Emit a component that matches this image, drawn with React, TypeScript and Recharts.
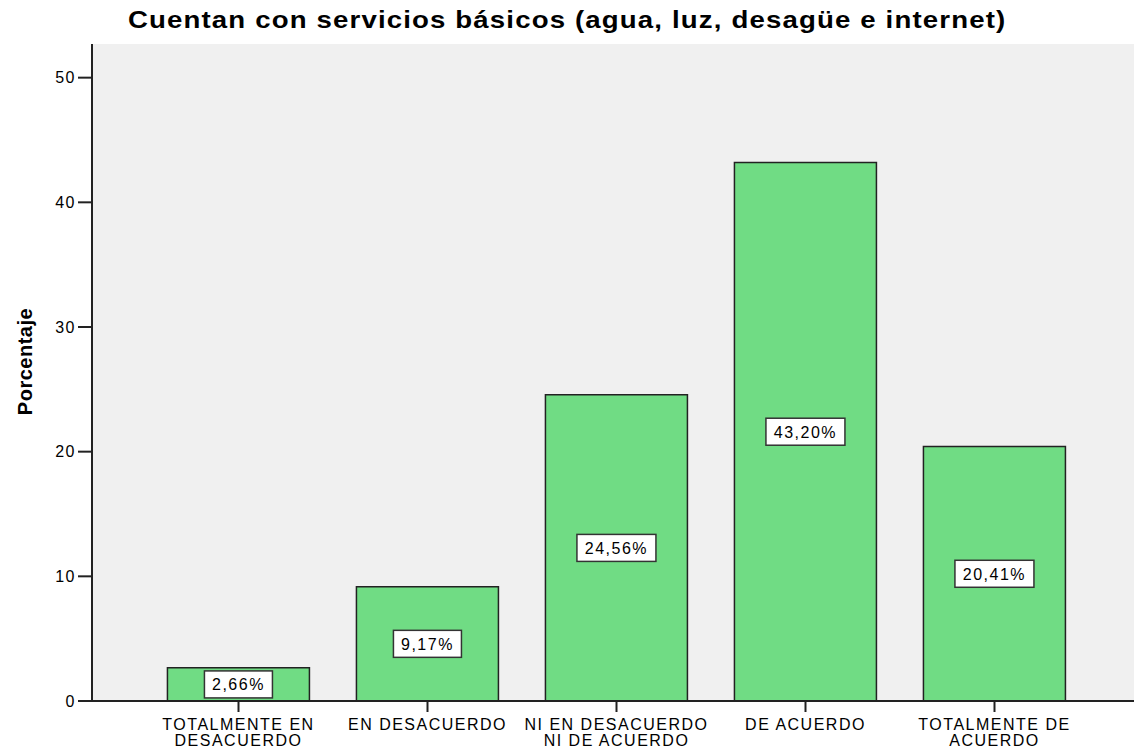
import React from 'react';
import { BarChart, Bar, XAxis, YAxis, CartesianGrid, LabelList } from 'recharts';

const categories = [
  'TOTALMENTE EN\nDESACUERDO',
  'EN DESACUERDO',
  'NI EN DESACUERDO\nNI DE ACUERDO',
  'DE ACUERDO',
  'TOTALMENTE DE\nACUERDO',
];
const percentages = [2.66, 9.17, 24.56, 43.2, 20.41];
const yTicks = [0, 10, 20, 30, 40, 50];

const data = categories.map((name, i) => ({ name, value: percentages[i] }));

const FONT = '"Liberation Sans", Arial, sans-serif';
const INK = '#222222';

function CategoryTick(props: any) {
  const { x, y, payload } = props;
  const lines = String(payload.value).split('\n');
  return (
    <text
      x={x}
      y={y}
      textAnchor="middle"
      fontFamily={FONT}
      fontSize={16}
      letterSpacing={1.5}
      fill="#000"
    >
      {lines.map((line, i) => (
        <tspan key={i} x={x} dy={16}>
          {line}
        </tspan>
      ))}
    </text>
  );
}

function ValueBox(props: any) {
  const { x, y, width, height, value } = props;
  const cx = x + width / 2;
  const cy = y + height / 2;
  const text = value.toFixed(2).replace('.', ',') + '%';
  const w = text.length * 11 + 13;
  const h = 27;
  return (
    <g>
      <rect x={cx - w / 2} y={cy - h / 2} width={w} height={h} fill="#fff" stroke="#333" strokeWidth={1.5} />
      <text
        x={cx}
        y={cy + 6}
        textAnchor="middle"
        fontFamily={FONT}
        fontSize={16}
        letterSpacing={1.5}
        fill="#000"
      >
        {text}
      </text>
    </g>
  );
}

function AxisTitle(props: any) {
  const { viewBox } = props;
  const x = viewBox.x + 13;
  const y = viewBox.y + viewBox.height / 2 - 11;
  return (
    <text
      x={x}
      y={y}
      transform={`rotate(-90 ${x} ${y})`}
      textAnchor="middle"
      dominantBaseline="central"
      fontFamily={FONT}
      fontWeight="bold"
      fontSize={20}
      letterSpacing={0.5}
      fill="#000"
    >
      Porcentaje
    </text>
  );
}

export default function App() {
  return (
    <div style={{ position: 'absolute', left: 0, top: 0, width: 1135, height: 748, background: '#fff' }}>
      <div
        style={{
          position: 'absolute',
          left: 0,
          width: 1135,
          top: 7,
          textAlign: 'center',
          fontFamily: FONT,
          fontWeight: 'bold',
          fontSize: 24,
          letterSpacing: 1,
          lineHeight: '26px',
          color: '#000',
          transform: 'scaleX(1.15)',
          transformOrigin: '570px 0',
        }}
      >
        Cuentan con servicios básicos (agua, luz, desagüe e internet)
      </div>
      <div style={{ position: 'absolute', left: 0, top: 0 }}>
        <BarChart
          width={1135}
          height={748}
          data={data}
          margin={{ top: 44, right: 1, bottom: 0, left: 12 }}
          barCategoryGap="12.4%"
        >
          <CartesianGrid horizontal={false} vertical={false} fill="#F0F0F0" />
          <XAxis
            dataKey="name"
            interval={0}
            height={47}
            padding={{ left: 52, right: 45 }}
            tickSize={11}
            tickLine={{ stroke: INK, strokeWidth: 2 }}
            axisLine={{ stroke: INK, strokeWidth: 2 }}
            tick={<CategoryTick />}
          />
          <XAxis xAxisId="top" orientation="top" height={0} tick={false} tickLine={false} axisLine={{ stroke: '#777', strokeWidth: 2 }} />
          <YAxis
            domain={[0, 52.7]}
            ticks={yTicks}
            width={80}
            tickSize={14}
            tickLine={{ stroke: INK, strokeWidth: 2 }}
            axisLine={{ stroke: INK, strokeWidth: 2 }}
            tick={{ fontFamily: FONT, fontSize: 16, letterSpacing: 1.5, fill: '#000' }}
            label={<AxisTitle />}
          />
          <YAxis yAxisId="right" orientation="right" width={0} tick={false} tickLine={false} axisLine={{ stroke: '#999', strokeWidth: 1 }} />
          <Bar dataKey="value" fill="#70DC84" stroke={INK} strokeWidth={1.5} isAnimationActive={false}>
            <LabelList dataKey="value" content={<ValueBox />} />
          </Bar>
        </BarChart>
      </div>
    </div>
  );
}
